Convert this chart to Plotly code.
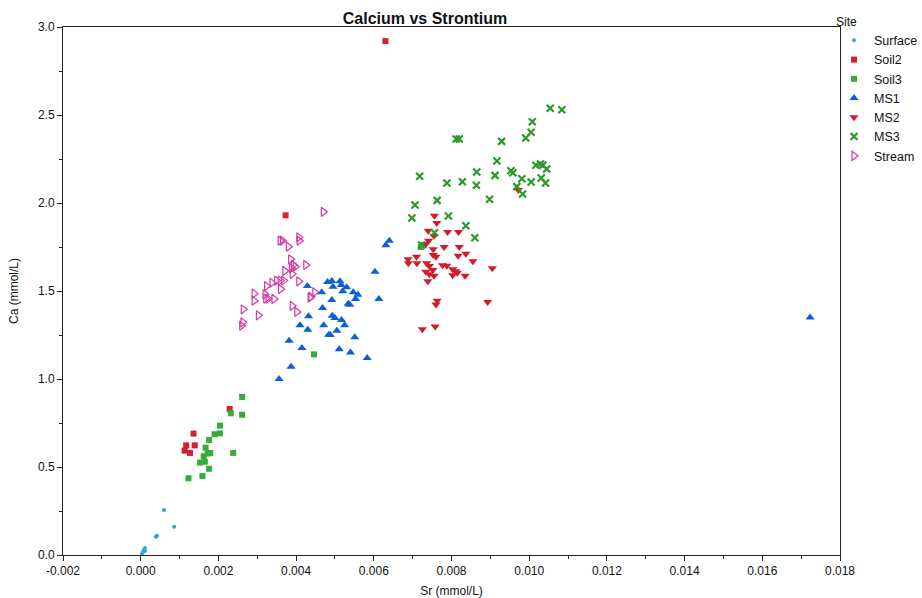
import plotly.graph_objects as go

# Sr (mmol/L) and Ca (mmol/L) per sampling site
surface_sr = [0.0006, 0.00086, 0.00039, 0.00042, 0.00011, 0.00008, 0.00006, 0.00003, 0.00011]
surface_ca = [0.256, 0.161, 0.104, 0.11, 0.04, 0.028, 0.017, 0.006, 0.023]

soil2_sr = [0.00229, 0.00136, 0.00117, 0.00139, 0.00113, 0.00127, 0.00373, 0.0063]
soil2_ca = [0.83, 0.69, 0.623, 0.623, 0.593, 0.58, 1.93, 2.92]

soil3_sr = [0.00261, 0.00232, 0.00261, 0.00204, 0.0019, 0.00204, 0.00176, 0.00167, 0.00162,
            0.00172, 0.00179, 0.00153, 0.00165, 0.00176, 0.00238, 0.00123, 0.00159, 0.00446,
            0.00721, 0.00728]
soil3_ca = [0.898, 0.805, 0.797, 0.735, 0.686, 0.691, 0.653, 0.61, 0.561,
            0.576, 0.58, 0.525, 0.53, 0.49, 0.58, 0.436, 0.449, 1.14,
            1.75, 1.76]

ms1_sr = [0.0064, 0.00631, 0.00603, 0.00613, 0.00429, 0.00466, 0.00481, 0.00492, 0.00495,
          0.00513, 0.00516, 0.0053, 0.0052, 0.00547, 0.00559, 0.00553, 0.00492, 0.00534,
          0.00538, 0.00468, 0.00432, 0.00493, 0.005, 0.00517, 0.00525, 0.00471, 0.0041,
          0.0043, 0.00484, 0.00488, 0.00505, 0.00551, 0.00382, 0.00415, 0.00511, 0.0054,
          0.00583, 0.00387, 0.00356, 0.01723]
ms1_ca = [1.786, 1.76, 1.61, 1.455, 1.528, 1.493, 1.551, 1.557, 1.524,
          1.555, 1.534, 1.521, 1.498, 1.493, 1.479, 1.455, 1.449, 1.428,
          1.422, 1.403, 1.356, 1.36, 1.347, 1.335, 1.305, 1.305, 1.305,
          1.28, 1.252, 1.25, 1.274, 1.237, 1.218, 1.176, 1.169, 1.15,
          1.119, 1.07, 1.0, 1.35]

ms2_sr = [0.00756, 0.00762, 0.0074, 0.00755, 0.0079, 0.00818, 0.00741, 0.00734, 0.00753,
          0.00781, 0.0082, 0.00753, 0.0076, 0.00817, 0.00837, 0.00688, 0.00689, 0.0071,
          0.00711, 0.00736, 0.00743, 0.00855, 0.00777, 0.00788, 0.00734, 0.00752, 0.00803,
          0.00811, 0.00815, 0.00743, 0.00755, 0.00803, 0.00835, 0.00739, 0.00905, 0.00763,
          0.0076, 0.00893, 0.00725, 0.00758, 0.00972]
ms2_ca = [1.928, 1.886, 1.843, 1.814, 1.835, 1.835, 1.786, 1.767, 1.737,
          1.75, 1.75, 1.705, 1.695, 1.7, 1.712, 1.68, 1.657, 1.695,
          1.657, 1.657, 1.642, 1.669, 1.646, 1.644, 1.61, 1.619, 1.623,
          1.612, 1.604, 1.595, 1.587, 1.589, 1.587, 1.555, 1.629, 1.445,
          1.424, 1.438, 1.282, 1.299, 2.074]

ms3_sr = [0.01054, 0.01084, 0.01008, 0.01005, 0.00991, 0.00812, 0.0082, 0.00929, 0.00917,
          0.00865, 0.00912, 0.00953, 0.00958, 0.01017, 0.01029, 0.01035, 0.01045, 0.00981,
          0.01005, 0.01031, 0.01042, 0.00968, 0.00983, 0.00828, 0.00788, 0.00864, 0.00718,
          0.00898, 0.00763, 0.00706, 0.00698, 0.00792, 0.00837, 0.00756, 0.0086, 0.00723]
ms3_ca = [2.538, 2.53, 2.462, 2.402, 2.369, 2.364, 2.364, 2.35, 2.239,
          2.176, 2.157, 2.183, 2.172, 2.214, 2.222, 2.214, 2.193, 2.138,
          2.119, 2.142, 2.114, 2.093, 2.051, 2.121, 2.114, 2.101, 2.152,
          2.021, 2.015, 1.989, 1.915, 1.926, 1.871, 1.831, 1.803, 1.761]

stream_sr = [0.0047, 0.00359, 0.00365, 0.00407, 0.00408, 0.0038, 0.00386, 0.00393, 0.00398,
             0.00388, 0.00425, 0.00371, 0.0039, 0.00359, 0.00368, 0.00407, 0.00338, 0.0035,
             0.00324, 0.0036, 0.00292, 0.00292, 0.0032, 0.00322, 0.00328, 0.00343, 0.00448,
             0.00438, 0.00436, 0.0039, 0.00402, 0.00303, 0.00264, 0.00263, 0.0026]
stream_ca = [1.95, 1.786, 1.786, 1.805, 1.786, 1.752, 1.68, 1.648, 1.638,
             1.629, 1.648, 1.614, 1.597, 1.559, 1.559, 1.555, 1.547, 1.559,
             1.528, 1.511, 1.485, 1.445, 1.481, 1.456, 1.456, 1.455, 1.493,
             1.468, 1.462, 1.415, 1.381, 1.362, 1.396, 1.322, 1.303]

x_ticks = [-0.002, 0.0, 0.002, 0.004, 0.006, 0.008, 0.010, 0.012, 0.014, 0.016, 0.018]
x_tick_labels = ["-0.002", "0.000", "0.002", "0.004", "0.006", "0.008", "0.010",
                 "0.012", "0.014", "0.016", "0.018"]
y_ticks = [0.0, 0.5, 1.0, 1.5, 2.0, 2.5, 3.0]
y_tick_labels = ["0.0", "0.5", "1.0", "1.5", "2.0", "2.5", "3.0"]

series = [
    ("Surface", surface_sr, surface_ca, dict(symbol="circle", size=4, color="#2aa6de")),
    ("Soil2", soil2_sr, soil2_ca, dict(symbol="square", size=6, color="#d42030")),
    ("Soil3", soil3_sr, soil3_ca, dict(symbol="square", size=6, color="#36ac3a")),
    ("MS1", ms1_sr, ms1_ca, dict(symbol="triangle-up", size=8, color="#0d5fd6")),
    ("MS2", ms2_sr, ms2_ca, dict(symbol="triangle-down", size=8, color="#d01c2c")),
    ("MS3", ms3_sr, ms3_ca, dict(symbol="x-thin", size=7, color="#2a9a2a",
                                 line=dict(color="#2a9a2a", width=2.2))),
    ("Stream", stream_sr, stream_ca, dict(symbol="triangle-right-open", size=8, color="#d23a9e",
                                          line=dict(color="#d23a9e", width=1.2))),
]

fig = go.Figure()
for name, xs, ys, mk in series:
    fig.add_trace(go.Scatter(x=xs, y=ys, mode="markers", name=name, marker=mk))

font_family = "Liberation Sans, Arial, sans-serif"
axis_common = dict(
    showgrid=False, zeroline=False, showline=True, linecolor="#222", linewidth=1,
    mirror=True, ticks="outside", ticklen=5, tickcolor="#222",
    tickfont=dict(size=12, color="#111", family=font_family),
)

fig.update_layout(
    width=922, height=598,
    margin=dict(l=63, r=82, t=27, b=43, autoexpand=False),
    paper_bgcolor="white", plot_bgcolor="white",
    font=dict(family=font_family, color="#111"),
    title=dict(text="<b>Calcium vs Strontium</b>", x=425 / 922, xanchor="center",
               yref="container", y=1 - 18 / 598, yanchor="middle",
               font=dict(size=16, color="#111", family=font_family)),
    xaxis=dict(range=[-0.002, 0.018], tickvals=x_ticks, ticktext=x_tick_labels,
               title=dict(text="Sr (mmol/L)", font=dict(size=12), standoff=12),
               minor=dict(dtick=0.001, tick0=0, ticks="outside", ticklen=3, tickcolor="#222"),
               **axis_common),
    yaxis=dict(range=[0, 3.0], tickvals=y_ticks, ticktext=y_tick_labels,
               title=dict(text="Ca (mmol/L)", font=dict(size=12), standoff=16),
               minor=dict(dtick=0.25, tick0=0, ticks="outside", ticklen=3, tickcolor="#222"),
               **axis_common),
    legend=dict(title=dict(text="Site", font=dict(size=12)), x=(834 - 63) / 777, xanchor="left",
                y=1.032, yanchor="top", font=dict(size=12.5), bgcolor="rgba(0,0,0,0)",
                tracegroupgap=0, itemwidth=30),
    showlegend=True,
)

fig.write_html("out.html")
